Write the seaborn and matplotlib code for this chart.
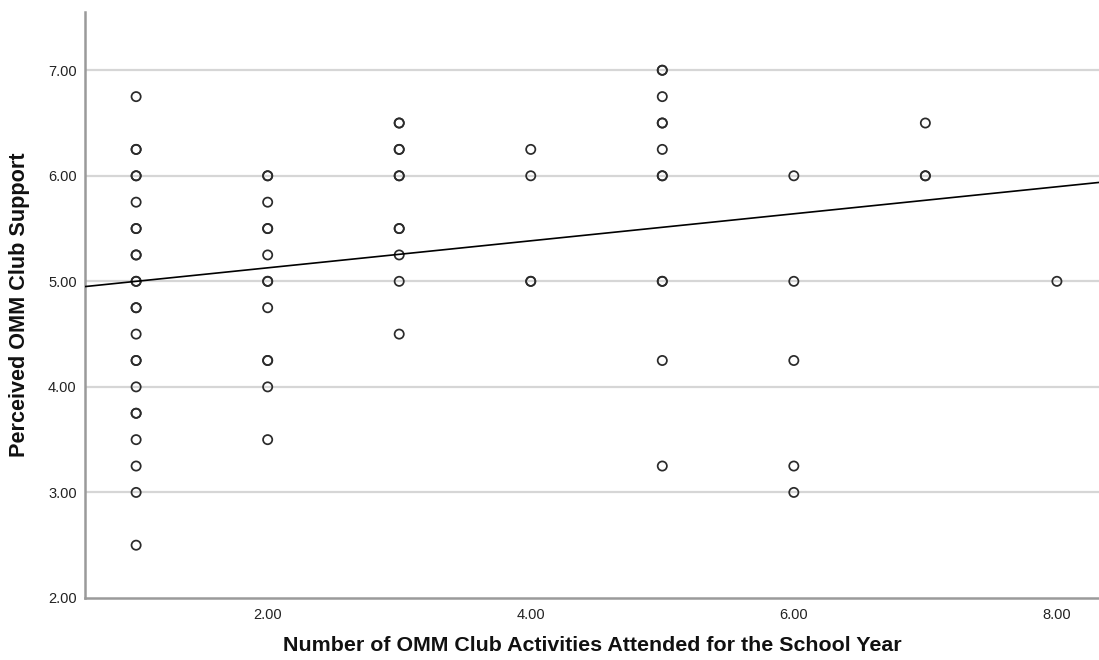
import matplotlib
matplotlib.use("Agg")
import matplotlib.pyplot as plt
import seaborn as sns
import pandas as pd
import numpy as np

# Club activities attended (x) and perceived club support (y); repeated pairs are listed twice
activities = (
    [1] * 24
    + [2] * 13
    + [3] * 11
    + [4] * 4
    + [5] * 12
    + [6] * 5
    + [7] * 3
    + [8] * 1
)
support = (
    [6.75, 6.25, 6.25, 6.00, 6.00, 5.75, 5.50, 5.50, 5.25, 5.25, 5.00, 5.00,
     4.75, 4.75, 4.50, 4.25, 4.25, 4.00, 3.75, 3.75, 3.50, 3.25, 3.00, 2.50]
    + [6.00, 6.00, 5.75, 5.50, 5.50, 5.25, 5.00, 5.00, 4.75, 4.25, 4.25, 4.00, 3.50]
    + [6.50, 6.50, 6.25, 6.25, 6.00, 6.00, 5.50, 5.50, 5.25, 5.00, 4.50]
    + [6.25, 6.00, 5.00, 5.00]
    + [7.00, 7.00, 6.75, 6.50, 6.50, 6.25, 6.00, 6.00, 5.00, 5.00, 4.25, 3.25]
    + [6.00, 5.00, 4.25, 3.25, 3.00]
    + [6.50, 6.00, 6.00]
    + [5.00]
)

# Linear fit: support = intercept + slope * activities
fit_intercept = 4.872
fit_slope = 0.128

x_ticks = [2, 4, 6, 8]
y_ticks = [2, 3, 4, 5, 6, 7]

df = pd.DataFrame({"activities": activities, "support": support})

sns.set_theme(style="white")
plt.rcParams["font.family"] = ["Liberation Sans", "DejaVu Sans"]

fig = plt.figure(figsize=(10.99, 6.60), dpi=100)
ax = fig.add_axes([0.0773, 0.094, 0.9227, 0.888])

xlim = (0.611, 8.32)
ylim = (2.0, 7.553)

# horizontal reference lines
for yv in y_ticks[1:]:
    ax.axhline(yv, color="#d6d6d6", lw=1.6, zorder=0)

sns.scatterplot(
    data=df, x="activities", y="support", ax=ax,
    marker="o", s=44, facecolor="none", edgecolor="#2b2b2b",
    linewidth=1.25, zorder=3, legend=False,
)

line_x = np.array(xlim)
line_df = pd.DataFrame({"x": line_x, "y": fit_intercept + fit_slope * line_x})
sns.lineplot(data=line_df, x="x", y="y", ax=ax, color="black", lw=1.2, zorder=4)

ax.set_xlim(*xlim)
ax.set_ylim(*ylim)
ax.set_xticks(x_ticks)
ax.set_xticklabels([f"{v:.2f}" for v in x_ticks])
ax.set_yticks(y_ticks)
ax.set_yticklabels([f"{v:.2f}" for v in y_ticks])
ax.tick_params(axis="both", length=0, labelsize=10.5, colors="#222222")
ax.tick_params(axis="x", pad=7)
ax.tick_params(axis="y", pad=6)

for side in ["top", "right"]:
    ax.spines[side].set_visible(False)
for side in ["left", "bottom"]:
    ax.spines[side].set_color("#9a9a9a")
    ax.spines[side].set_linewidth(1.8)

ax.set_xlabel("Number of OMM Club Activities Attended for the School Year",
              fontsize=15.4, fontweight="bold", labelpad=10, color="#111111")
ax.set_ylabel("Perceived OMM Club Support",
              fontsize=15.6, fontweight="bold", labelpad=13, color="#111111")

fig.savefig("out.png", dpi=100, facecolor="white")
